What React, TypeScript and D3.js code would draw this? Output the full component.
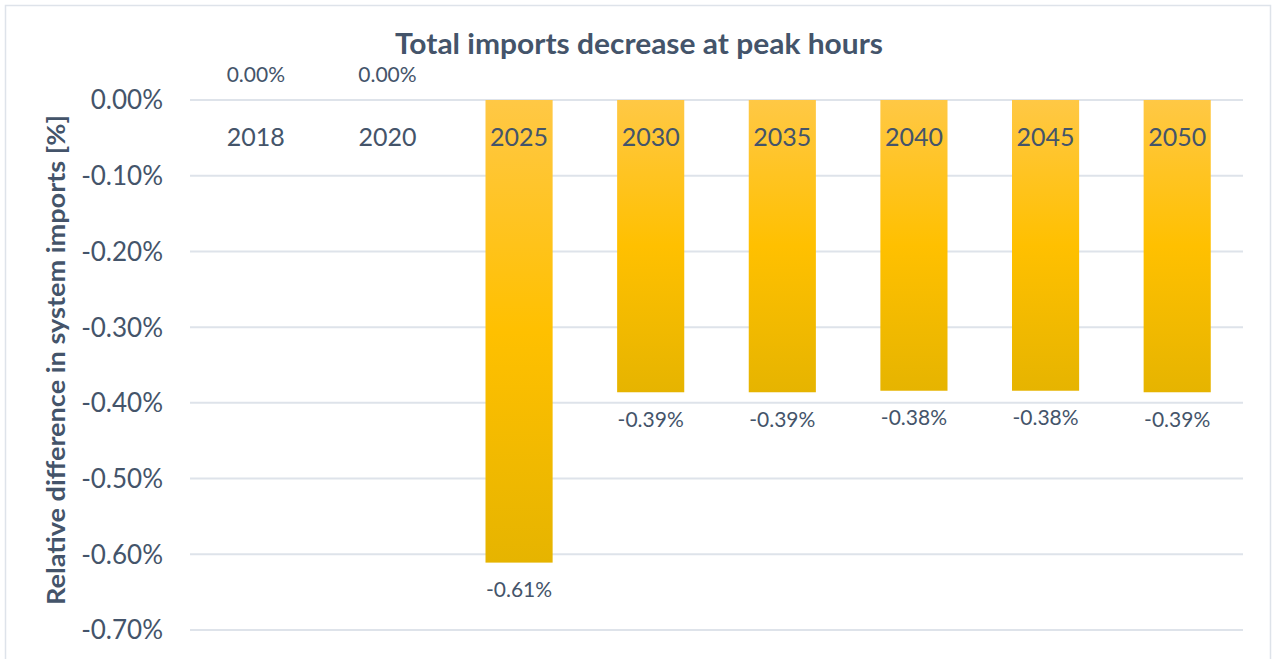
import React from "react";
import * as d3 from "d3";

const categories = ["2018", "2020", "2025", "2030", "2035", "2040", "2045", "2050"];
const values = [0, 0, -0.611, -0.386, -0.386, -0.384, -0.384, -0.386];
const yTicks = [0, -0.1, -0.2, -0.3, -0.4, -0.5, -0.6, -0.7];
const titleText = "Total imports decrease at peak hours";
const yTitle = "Relative  difference in system imports [%]";

const W = 1275;
const H = 659;
const textColor = "#44546A";
const font = "Lato, 'Open Sans', sans-serif";

function fmt(v: number) {
  const s = Math.abs(v) < 1e-9 ? "0.00" : v.toFixed(2);
  return s + "%";
}

export default function App() {
  const x = d3
    .scaleBand<string>()
    .domain(categories)
    .range([190, 1243])
    .paddingInner(0.49)
    .paddingOuter(0.245);
  const y = d3.scaleLinear().domain([-0.7, 0]).range([630, 100]);

  return (
    <svg
      width={W}
      height={H}
      style={{ position: "absolute", left: 0, top: 0, background: "#fff" }}
      fontFamily={font}
    >
      <defs>
        <linearGradient id="barGrad" x1="0" y1="0" x2="0" y2="1">
          <stop offset="0" stopColor="#FFC845" />
          <stop offset="0.5" stopColor="#FFC000" />
          <stop offset="1" stopColor="#E6B400" />
        </linearGradient>
      </defs>
      <rect x={5.5} y={5.5} width={1265} height={670} fill="#fff" stroke="#DEE3EA" strokeWidth={1.5} />

      <text
        x={639}
        y={54}
        textAnchor="middle"
        fontSize={28}
        fontWeight="bold"
        fill={textColor}
        textLength={488}
        lengthAdjust="spacingAndGlyphs"
      >
        {titleText}
      </text>

      {yTicks.map((t) => (
        <g key={t}>
          <line x1={190} x2={1243} y1={y(t)} y2={y(t)} stroke="#DEE3EA" strokeWidth={2} />
          <text
            x={163}
            y={y(t)}
            dy="0.36em"
            textAnchor="end"
            fontSize={26}
            fill={textColor}
          >
            {fmt(t)}
          </text>
        </g>
      ))}

      <text
        transform={`translate(65,${360}) rotate(-90)`}
        textAnchor="middle"
        fontSize={25}
        fontWeight="bold"
        fill={textColor}
        textLength={490}
        lengthAdjust="spacingAndGlyphs"
      >
        {yTitle}
      </text>

      {categories.map((c, i) => {
        const v = values[i];
        const bx = x(c)!;
        const bw = x.bandwidth();
        const y0 = y(0);
        const y1 = y(v);
        return (
          <g key={c}>
            {v < 0 && (
              <rect x={bx} y={y0} width={bw} height={y1 - y0} fill="url(#barGrad)" />
            )}
          </g>
        );
      })}

      {categories.map((c, i) => {
        const v = values[i];
        const cx = x(c)! + x.bandwidth() / 2;
        const ly = v < 0 ? y(v) + 27 : y(0) - 26;
        return (
          <g key={"l" + c}>
            <text x={cx} y={y(0) + 37} dy="0.36em" textAnchor="middle" fontSize={25} fill={textColor}>
              {c}
            </text>
            <text x={cx} y={ly} dy="0.36em" textAnchor="middle" fontSize={21} fill={textColor}>
              {fmt(v)}
            </text>
          </g>
        );
      })}
    </svg>
  );
}
